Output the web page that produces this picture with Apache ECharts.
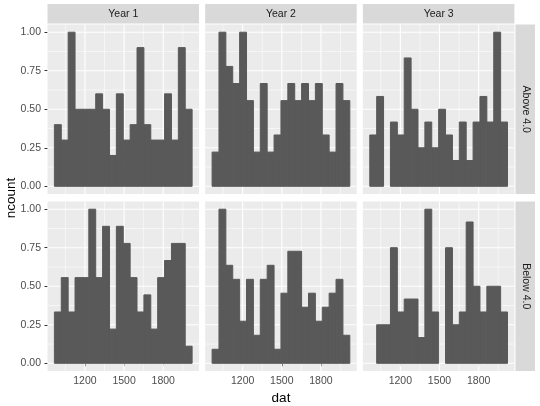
<!DOCTYPE html>
<html><head><meta charset="utf-8">
<script src="https://cdn.jsdelivr.net/npm/echarts@6/dist/echarts.min.js"></script>
<style>html,body{margin:0;padding:0;background:#fff}#c{width:540px;height:406px}</style>
</head><body><div id="c"></div>
<script>
// ---- data ----
const years = ['Year 1', 'Year 2', 'Year 3'];
const groups = ['Above 4.0', 'Below 4.0'];
const binEdges = [966, 1018.75, 1071.5, 1124.25, 1177, 1229.75, 1282.5, 1335.25, 1388, 1440.75,
  1493.5, 1546.25, 1599, 1651.75, 1704.5, 1757.25, 1810, 1862.75, 1915.5, 1968.25, 2021];
const aboveYear1 = [0.4, 0.3, 1.0, 0.5, 0.5, 0.5, 0.6, 0.5, 0.2, 0.6, 0.3, 0.4, 0.9, 0.4, 0.3, 0.3, 0.6, 0.3, 0.9, 0.5];
const aboveYear2 = [0.222, 1.0, 0.778, 0.667, 1.0, 0.556, 0.222, 0.667, 0.222, 0.333, 0.556, 0.667, 0.556, 0.667, 0.556, 0.667, 0.333, 0.222, 0.667, 0.556];
const aboveYear3 = [0.333, 0.583, 0, 0.417, 0.333, 0.833, 0.5, 0.25, 0.417, 0.25, 0.5, 0.333, 0.167, 0.417, 0.167, 0.417, 0.583, 0.417, 1.0, 0.417];
const belowYear1 = [0.333, 0.556, 0.333, 0.556, 0.556, 1.0, 0.556, 0.889, 0.222, 0.889, 0.778, 0.556, 0.333, 0.444, 0.222, 0.556, 0.667, 0.778, 0.778, 0.111];
const belowYear2 = [0.091, 1.0, 0.636, 0.545, 0.273, 0.545, 0.182, 0.545, 0.636, 0.091, 0.455, 0.727, 0.727, 0.364, 0.455, 0.273, 0.364, 0.455, 0.545, 0.182];
const belowYear3 = [0, 0.25, 0.25, 0.75, 0.333, 0.417, 0.417, 0.167, 1.0, 0.333, 0, 0.75, 0.25, 0.333, 0.917, 0.5, 0.333, 0.5, 0.5, 0.333];
const xTicks = [1200, 1500, 1800];
const xMinor = [1050, 1350, 1650, 1950];
const yTicks = [0, 0.25, 0.5, 0.75, 1];
const yMinor = [0.125, 0.375, 0.625, 0.875];
const X_MIN = 913.25, X_MAX = 2073.75;
const Y_MIN = -0.05, Y_MAX = 1.05;

// ---- layout ----
const L = [47.5, 205.2, 362.9], W = 151.5;
const T = [24.5, 201.5], H = 169.5;
const FONT = 'Liberation Sans, Arial, Helvetica, sans-serif';
const panelData = [[aboveYear1, aboveYear2, aboveYear3], [belowYear1, belowYear2, belowYear3]];

const gridLineData = [];
xMinor.forEach(v => gridLineData.push([v, 0, 0]));
yMinor.forEach(v => gridLineData.push([v, 1, 0]));
xTicks.forEach(v => gridLineData.push([v, 0, 1]));
yTicks.forEach(v => gridLineData.push([v, 1, 1]));

const grids = [], xAxes = [], yAxes = [], series = [], graphics = [];
for (let r = 0; r < 2; r++) {
  for (let c = 0; c < 3; c++) {
    const idx = r * 3 + c;
    grids.push({left: L[c], top: T[r], width: W, height: H, show: true,
      backgroundColor: '#EBEBEB', borderWidth: 0, containLabel: false});
    xAxes.push({type: 'value', gridIndex: idx, min: X_MIN, max: X_MAX,
      axisLine: {show: false}, splitLine: {show: false}, minorSplitLine: {show: false},
      axisTick: {show: r === 1, customValues: xTicks, length: 3, lineStyle: {color: '#333333', width: 1}},
      axisLabel: {show: r === 1, customValues: xTicks, margin: 5, color: '#4D4D4D', fontSize: 10.5, fontFamily: FONT,
        formatter: v => String(Math.round(v))}});
    yAxes.push({type: 'value', gridIndex: idx, min: Y_MIN, max: Y_MAX,
      axisLine: {show: false}, splitLine: {show: false}, minorSplitLine: {show: false},
      axisTick: {show: c === 0, customValues: yTicks, length: 3, lineStyle: {color: '#333333', width: 1}},
      axisLabel: {show: c === 0, customValues: yTicks, margin: 6.5, color: '#4D4D4D', fontSize: 10.5, fontFamily: FONT,
        formatter: v => Number(v).toFixed(2)}});
    series.push({type: 'custom', xAxisIndex: idx, yAxisIndex: idx, silent: true, z: 1,
      encode: {x: 0, y: 2},
      data: gridLineData,
      renderItem: (params, api) => {
        const v = api.value(0), o = api.value(1), m = api.value(2);
        let p1, p2;
        if (o === 0) { p1 = api.coord([v, Y_MIN]); p2 = api.coord([v, Y_MAX]); }
        else { p1 = api.coord([X_MIN, v]); p2 = api.coord([X_MAX, v]); }
        return {type: 'line', shape: {x1: p1[0], y1: p1[1], x2: p2[0], y2: p2[1]},
          style: {stroke: '#FFFFFF', lineWidth: m ? 1.1 : 0.55}};
      }});
    const vals = panelData[r][c];
    const bars = vals.map((v, i) => [binEdges[i], binEdges[i + 1], v]);
    series.push({type: 'custom', xAxisIndex: idx, yAxisIndex: idx, silent: true, z: 2,
      encode: {x: [0, 1], y: 2},
      data: bars,
      renderItem: (params, api) => {
        const lo = api.value(0), hi = api.value(1), v = api.value(2);
        if (!(v > 0)) return null;
        const p0 = api.coord([lo, v]), p1 = api.coord([hi, 0]);
        return {type: 'rect', shape: {x: p0[0], y: p0[1], width: p1[0] - p0[0], height: p1[1] - p0[1]},
          style: {fill: '#595959', stroke: '#595959', lineWidth: 1}};
      }});
  }
}
// strips
for (let c = 0; c < 3; c++) {
  graphics.push({type: 'rect', silent: true, shape: {x: L[c], y: 4, width: W, height: 19.5}, style: {fill: '#D9D9D9'}});
  graphics.push({type: 'text', silent: true, x: L[c] + W / 2, y: 13.9,
    style: {text: years[c], align: 'center', verticalAlign: 'middle', fill: '#1A1A1A', fontSize: 10.5, fontFamily: FONT}});
}
for (let r = 0; r < 2; r++) {
  graphics.push({type: 'rect', silent: true, shape: {x: 515.5, y: T[r], width: 19.5, height: H}, style: {fill: '#D9D9D9'}});
  graphics.push({type: 'text', silent: true, x: 525.4, y: T[r] + H / 2, rotation: -Math.PI / 2,
    style: {text: groups[r], align: 'center', verticalAlign: 'middle', fill: '#1A1A1A', fontSize: 10.5, fontFamily: FONT}});
}
graphics.push({type: 'text', silent: true, x: 281, y: 398,
  style: {text: 'dat', align: 'center', verticalAlign: 'middle', fill: '#000000', fontSize: 13.5, fontFamily: FONT}});
graphics.push({type: 'text', silent: true, x: 11, y: 198, rotation: Math.PI / 2,
  style: {text: 'ncount', align: 'center', verticalAlign: 'middle', fill: '#000000', fontSize: 13.5, fontFamily: FONT}});

const chart = echarts.init(document.getElementById('c'), null, {renderer: 'canvas'});
chart.setOption({
  animation: false,
  backgroundColor: '#FFFFFF',
  grid: grids, xAxis: xAxes, yAxis: yAxes, series: series, graphic: graphics
});
</script>
</body></html>
